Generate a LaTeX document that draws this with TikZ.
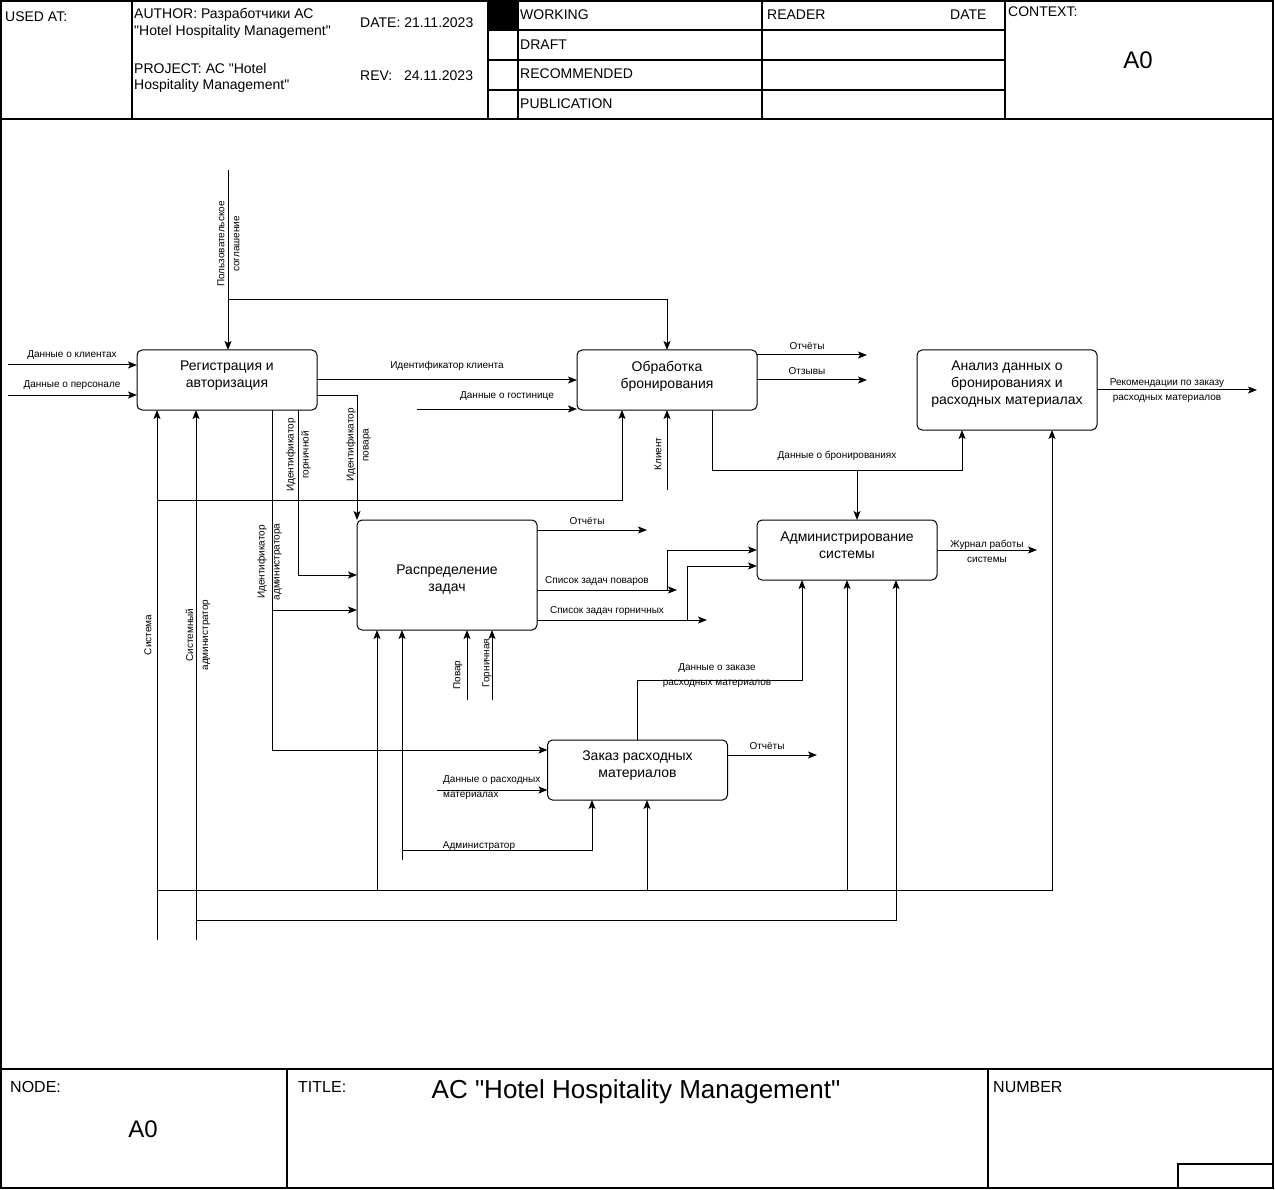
\documentclass[tikz,border=0pt]{standalone}
\usepackage{fontspec}
\setmainfont{Liberation Sans}
\newfontfamily\plainqfont{Liberation Sans}
\usetikzlibrary{arrows.meta,positioning,calc}
\newcommand{\qt}{{\plainqfont"}}
\tikzset{
  func/.style={draw=black,line width=1pt,rounded corners=5pt,
               minimum width=180pt,minimum height=60pt,
               inner sep=0pt,outer sep=0pt},
  functext/.style={font=\fontsize{14}{17}\selectfont,align=center,inner sep=0pt},
  flow/.style={-{Stealth[length=9pt,width=7pt,inset=2pt]},line width=1pt},
  lbl/.style={font=\fontsize{10}{15}\selectfont,align=center,inner sep=0pt},
  vlbl/.style={lbl,rotate=90},
  hdr/.style={font=\fontsize{14}{18}\selectfont,anchor=west,inner sep=0pt},
  ftr/.style={font=\fontsize{16}{19}\selectfont,anchor=west,inner sep=0pt},
  big/.style={font=\fontsize{24}{28}\selectfont,inner sep=0pt},
  frame/.style={line width=1.2pt}
}
\begin{document}
\begin{tikzpicture}[x=1pt,y=-1pt]
  \useasboundingbox (0,0) rectangle (1275,1190);
  % form frame
  \draw[frame] (1,1) rectangle (1273,1188);
  \draw[frame] (1,119) -- (1273,119);
  \draw[frame] (1,1069) -- (1273,1069);
  \foreach \xx in {132,488,518,762,1005}
    \draw[frame] (\xx,1) -- (\xx,119);
  \foreach \yy in {30,60,90}
    \draw[frame] (488,\yy) -- (1005,\yy);
  \fill (488,1) rectangle (518,30);
  \draw[frame] (287,1069) -- (287,1188);
  \draw[frame] (988,1069) -- (988,1188);
  \draw[frame] (1178,1164) rectangle (1273,1188);

  % header texts
  \node[hdr] (usedat) at (5,17) {USED AT:};
  \node[hdr] (author) at (134,15) {AUTHOR: Разработчики АС};
  \node[hdr] (author2) at (134,32) {\qt Hotel Hospitality Management\qt};
  \node[hdr] (project) at (134,68) {PROJECT: АС \qt Hotel};
  \node[hdr] (project2) at (134,86) {Hospitality Management\qt};
  \node[hdr] (date) at (360,23) {DATE: 21.11.2023};
  \node[hdr] (rev) at (360,76) {REV:\ \ \ 24.11.2023};
  \node[hdr] (working) at (520,15) {WORKING};
  \node[hdr] (draft) at (520,45) {DRAFT};
  \node[hdr] (recom) at (520,74) {RECOMMENDED};
  \node[hdr] (publ) at (520,104) {PUBLICATION};
  \node[hdr] (reader) at (767,15) {READER};
  \node[hdr] (rdate) at (950,15) {DATE};
  \node[hdr] (context) at (1008,12) {CONTEXT:};
  \node[big] (ctxnode) at (1138,60) {A0};

  % footer texts
  \node[ftr] (nodelbl) at (10,1087) {NODE:};
  \node[big] (nodeval) at (143,1129) {A0};
  \node[ftr] (titlelbl) at (298,1087) {TITLE:};
  \node[big,font=\fontsize{26}{30}\selectfont] (title) at (636,1092)
    {AC \qt Hotel Hospitality Management\qt};
  \node[ftr] (numlbl) at (993,1087) {NUMBER};

  % functions
  \node[func,label={[functext,yshift=4pt]center:Регистрация и\\авторизация}]
    (reg) at (227,380) {};
  \node[func,label={[functext,yshift=4pt]center:Обработка\\бронирования}]
    (book) at (667,380) {};
  \node[func,minimum height=80pt,
        label={[functext,yshift=6pt]center:Анализ данных о\\бронированиях и\\расходных материалах}]
    (analysis) at (1007,390) {};
  \node[func,minimum height=110pt,
        label={[functext,yshift=-5pt]center:Распределение\\задач}]
    (tasks) at (447,575) {};
  \node[func,label={[functext,yshift=5pt]center:Администрирование\\системы}]
    (admin) at (847,550) {};
  \node[func,label={[functext,yshift=4pt]center:Заказ расходных\\материалов}]
    (supply) at (637.5,770) {};

  % free ends
  \coordinate (cliIn) at (8,365);
  \coordinate (perIn) at (8,395);
  \coordinate (agrIn) at (228,170);
  \coordinate (hotIn) at (417,409);
  \coordinate (sysIn) at (157,940);
  \coordinate (sadmIn) at (196,940);
  \coordinate (admrIn) at (402,860);
  \coordinate (cookIn) at (467,700);
  \coordinate (maidIn) at (492,700);
  \coordinate (cliMech) at (667,490);
  \coordinate (supIn) at (437,790);
  \coordinate (bookRep) at (867,355);
  \coordinate (bookRev) at (867,380);
  \coordinate (anaOut) at (1257,390);
  \coordinate (taskRep) at (647,530);
  \coordinate (cookOut) at (677,590);
  \coordinate (maidOut) at (707,620);
  \coordinate (logOut) at (1037,550);
  \coordinate (supRep) at (817,755);

  % inputs and controls
  \draw[flow] (cliIn) -- (cliIn -| reg.west);
  \draw[flow] (perIn) -- (perIn -| reg.west);
  \draw[flow] (agrIn) -- (agrIn |- reg.north);
  \draw[flow] (agrIn |- 0,300) -- (book.north |- 0,300) -- (book.north);
  \draw[flow] (reg.east) -- (book.west);
  \draw[flow] (hotIn) -- (hotIn -| book.west);
  \draw[flow] (reg.east |- 0,395) -- (357,395) -- (tasks.north west);
  \draw[flow] (reg.south -| 298,0) -- (298,575) -- (tasks.west |- 0,575);
  \draw[flow] (reg.south -| 272,0) -- (272,750) -- (supply.west |- 0,750);
  \draw[flow] (272,610) -- (tasks.west |- 0,610);
  \draw[flow] (supIn) -- (supIn -| supply.west);

  % mechanisms
  \draw[flow] (sysIn) -- (sysIn |- reg.south);
  \draw[flow] (157,500) -- (622,500) -- (book.south -| 622,0);
  \draw[flow] (157,890) -- (1052,890) -- (analysis.south -| 1052,0);
  \draw[flow] (377,890) -- (tasks.south -| 377,0);
  \draw[flow] (647,890) -- (supply.south -| 647,0);
  \draw[flow] (847,890) -- (admin.south -| 847,0);
  \draw[flow] (sadmIn) -- (sadmIn |- reg.south);
  \draw[flow] (196,920) -- (896,920) -- (admin.south -| 896,0);
  \draw[flow] (admrIn) -- (admrIn |- tasks.south);
  \draw[flow] (402,850) -- (592,850) -- (supply.south -| 592,0);
  \draw[flow] (cookIn) -- (cookIn |- tasks.south);
  \draw[flow] (maidIn) -- (maidIn |- tasks.south);
  \draw[flow] (cliMech) -- (cliMech |- book.south);

  % outputs
  \draw[flow] (book.east |- bookRep) -- (bookRep);
  \draw[flow] (book.east) -- (bookRev);
  \draw[flow] (book.south -| 712,0) -- (712,470) -- (962,470) -- (analysis.south -| 962,0);
  \draw[flow] (857,470) -- (admin.north -| 857,0);
  \draw[flow] (analysis.east) -- (anaOut);
  \draw[flow] (tasks.east |- taskRep) -- (taskRep);
  \draw[flow] (tasks.east |- cookOut) -- (cookOut);
  \draw[flow] (667,590) -- (667,550) -- (admin.west);
  \draw[flow] (tasks.east |- maidOut) -- (maidOut);
  \draw[flow] (687,620) -- (687,566) -- (admin.west |- 0,566);
  \draw[flow] (admin.east) -- (logOut);
  \draw[flow] (supply.east |- supRep) -- (supRep);
  \draw[flow] (supply.north -| 637,0) -- (637,680) -- (802,680) -- (admin.south -| 802,0);

  % arrow labels
  \node[lbl] (lcli) at (72,355) {Данные о клиентах};
  \node[lbl] (lper) at (72,385) {Данные о персонале};
  \node[vlbl] (lagr) at (228.5,244) {Пользовательское\\соглашение};
  \node[lbl] (lid) at (447,366) {Идентификатор клиента};
  \node[lbl] (lhot) at (507,396) {Данные о гостинице};
  \node[vlbl] (lmaid) at (298.5,455) {Идентификатор\\горничной};
  \node[vlbl] (lcook) at (358.5,445) {Идентификатор\\повара};
  \node[vlbl] (ladm) at (269.5,562) {Идентификатор\\администратора};
  \node[vlbl] (lsys) at (148,635) {Система};
  \node[vlbl] (lsadm) at (198,635) {Системный\\администратор};
  \node[vlbl] (lclient) at (658,454) {Клиент};
  \node[vlbl] (lcookm) at (458,675) {Повар};
  \node[vlbl] (lmaidm) at (487,663) {Горничная};
  \node[lbl] (lrep1) at (807,346) {Отчёты};
  \node[lbl] (lrev) at (807,371) {Отзывы};
  \node[lbl] (lrec) at (1167,391) {Рекомендации по заказу\\расходных материалов};
  \node[lbl] (lbookd) at (837,456) {Данные о бронированиях};
  \node[lbl] (lrep2) at (587,521) {Отчёты};
  \node[lbl] (lcookl) at (597,581) {Список задач поваров};
  \node[lbl] (lmaidl) at (607,611) {Список задач горничных};
  \node[lbl] (llog) at (987,551) {Журнал работы\\системы};
  \node[lbl] (lorder) at (717,676) {Данные о заказе\\расходных материалов};
  \node[lbl] (lrep3) at (767,746) {Отчёты};
  \node[lbl,anchor=west,align=left] (lsup) at (443,788) {Данные о расходных\\материалах};
  \node[lbl] (ladmr) at (479,846) {Администратор};
\end{tikzpicture}
\end{document}
